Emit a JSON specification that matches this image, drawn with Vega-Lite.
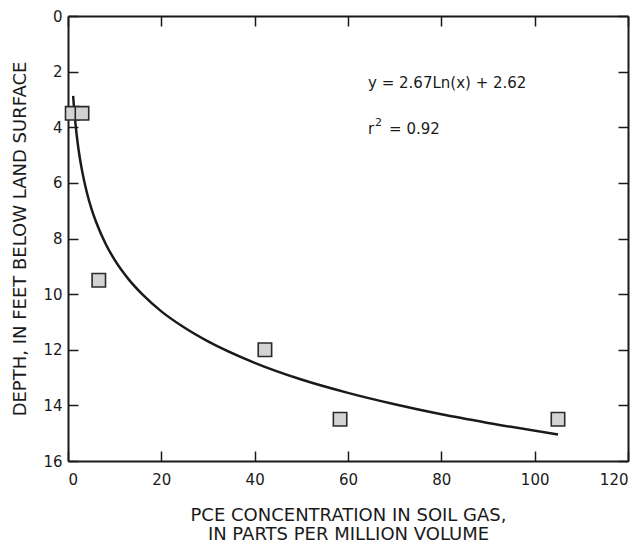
{
  "$schema": "https://vega.github.io/schema/vega-lite/v6.json",
  "width": 560,
  "height": 445,
  "autosize": {"type": "none"},
  "padding": {"left": 68, "top": 16, "right": 10, "bottom": 85},
  "background": "white",
  "config": {
    "view": {"stroke": null},
    "font": "DejaVu Sans",
    "axis": {
      "domainColor": "#1a1a1a",
      "domainWidth": 2,
      "tickColor": "#1a1a1a",
      "tickWidth": 1.5,
      "tickSize": -10,
      "grid": false,
      "labelFont": "DejaVu Sans",
      "labelFontSize": 15,
      "labelColor": "#1a1a1a",
      "titleFont": "DejaVu Sans",
      "titleFontSize": 18,
      "titleFontWeight": "normal",
      "titleColor": "#1a1a1a"
    }
  },
  "datasets": {
    "samples": [
      {"conc": 0.9, "depth": 3.5},
      {"conc": 3.0, "depth": 3.5},
      {"conc": 6.6, "depth": 9.5},
      {"conc": 42.2, "depth": 12.0},
      {"conc": 58.3, "depth": 14.5},
      {"conc": 105.0, "depth": 14.5}
    ],
    "fit": [
      {"conc": 1.1, "depth": 2.87},
      {"conc": 1.3, "depth": 3.32},
      {"conc": 1.6, "depth": 3.87},
      {"conc": 2, "depth": 4.47},
      {"conc": 2.5, "depth": 5.07},
      {"conc": 3, "depth": 5.55},
      {"conc": 4, "depth": 6.32},
      {"conc": 5, "depth": 6.92},
      {"conc": 6, "depth": 7.40},
      {"conc": 8, "depth": 8.17},
      {"conc": 10, "depth": 8.77},
      {"conc": 13, "depth": 9.47},
      {"conc": 16, "depth": 10.02},
      {"conc": 20, "depth": 10.62},
      {"conc": 25, "depth": 11.21},
      {"conc": 30, "depth": 11.70},
      {"conc": 40, "depth": 12.47},
      {"conc": 50, "depth": 13.07},
      {"conc": 60, "depth": 13.55},
      {"conc": 70, "depth": 13.96},
      {"conc": 80, "depth": 14.32},
      {"conc": 90, "depth": 14.63},
      {"conc": 105, "depth": 15.05}
    ],
    "notes": [
      {"conc": 64.3, "depth": 2.4, "eq": "y = 2.67Ln(x) + 2.62"}
    ],
    "rnote": [
      {"conc": 64.3, "depth": 4.05}
    ]
  },
  "layer": [
    {
      "data": {"name": "fit"},
      "mark": {"type": "line", "color": "#1a1a1a", "strokeWidth": 2.5, "interpolate": "monotone", "clip": true},
      "encoding": {
        "x": {
          "field": "conc", "type": "quantitative",
          "scale": {"domain": [0, 120], "nice": false, "zero": false},
          "axis": {"orient": "top", "labels": false, "title": null, "values": [0, 20, 40, 60, 80, 100, 120]}
        },
        "y": {
          "field": "depth", "type": "quantitative",
          "scale": {"domain": [0, 16], "reverse": true, "nice": false, "zero": false},
          "axis": {"orient": "right", "labels": false, "title": null, "values": [0, 2, 4, 6, 8, 10, 12, 14, 16]}
        }
      }
    },
    {
      "data": {"name": "samples"},
      "mark": {"type": "square", "size": 180, "filled": true, "fill": "#d3d3d3", "stroke": "#2a2a2a", "strokeWidth": 1.6, "opacity": 1},
      "encoding": {
        "x": {
          "field": "conc", "type": "quantitative",
          "scale": {"domain": [0, 120], "nice": false, "zero": false},
          "axis": {"orient": "bottom", "values": [0, 20, 40, 60, 80, 100, 120], "labelPadding": 21,
                   "title": ["PCE CONCENTRATION IN SOIL GAS,", "IN PARTS PER MILLION VOLUME"],
                   "titlePadding": 19, "titleLineHeight": 19}
        },
        "y": {
          "field": "depth", "type": "quantitative",
          "scale": {"domain": [0, 16], "reverse": true, "nice": false, "zero": false},
          "axis": {"orient": "left", "values": [0, 2, 4, 6, 8, 10, 12, 14, 16], "labelPadding": 16,
                   "title": "DEPTH, IN FEET BELOW LAND SURFACE", "titlePadding": 13}
        }
      }
    },
    {
      "data": {"name": "notes"},
      "mark": {"type": "text", "align": "left", "baseline": "middle", "fontSize": 15, "color": "#1a1a1a", "font": "DejaVu Sans"},
      "encoding": {
        "x": {"field": "conc", "type": "quantitative", "axis": null},
        "y": {"field": "depth", "type": "quantitative", "axis": null},
        "text": {"field": "eq"}
      }
    },
    {
      "data": {"name": "rnote"},
      "mark": {"type": "text", "align": "left", "baseline": "middle", "fontSize": 15, "color": "#1a1a1a", "font": "DejaVu Sans", "text": "r"},
      "encoding": {
        "x": {"field": "conc", "type": "quantitative", "axis": null},
        "y": {"field": "depth", "type": "quantitative", "axis": null}
      }
    },
    {
      "data": {"name": "rnote"},
      "mark": {"type": "text", "align": "left", "baseline": "middle", "fontSize": 11, "color": "#1a1a1a", "font": "DejaVu Sans", "text": "2", "dx": 7, "dy": -6},
      "encoding": {
        "x": {"field": "conc", "type": "quantitative", "axis": null},
        "y": {"field": "depth", "type": "quantitative", "axis": null}
      }
    },
    {
      "data": {"name": "rnote"},
      "mark": {"type": "text", "align": "left", "baseline": "middle", "fontSize": 15, "color": "#1a1a1a", "font": "DejaVu Sans", "text": "= 0.92", "dx": 21},
      "encoding": {
        "x": {"field": "conc", "type": "quantitative", "axis": null},
        "y": {"field": "depth", "type": "quantitative", "axis": null}
      }
    }
  ],
  "resolve": {"axis": {"x": "independent", "y": "independent"}}
}
